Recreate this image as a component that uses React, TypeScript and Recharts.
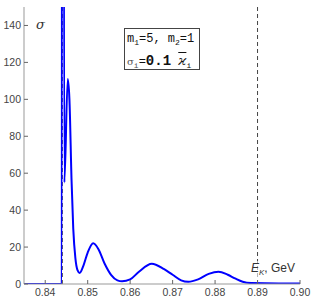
import React from 'react';
import { LineChart, Line, XAxis, YAxis, ReferenceLine } from 'recharts';

const energy = [
  0.835, 0.8439, 0.84402, 0.8445, 0.8453, 0.8457, 0.8462, 0.8466, 0.8471, 0.8476, 0.8481,
  0.849, 0.85, 0.8513, 0.8525, 0.854, 0.8555, 0.857, 0.8581, 0.86, 0.862, 0.8651, 0.868,
  0.87, 0.872, 0.8737, 0.876, 0.8785, 0.8808, 0.883, 0.8847, 0.8865, 0.8885, 0.895, 0.9,
];
const sigma = [
  0, 0, 900, 55, 111, 100, 56, 30, 14, 7.5, 6,
  10, 17, 22, 19, 11, 5, 2, 1.5, 2.5, 6.5, 11, 8,
  5, 2, 1.2, 2.5, 5.5, 6.7, 5, 3, 1.2, 0.5, 0.3, 0.3,
];

const xTicks = [0.84, 0.85, 0.86, 0.87, 0.88, 0.89, 0.9];
const xMinor = [
  0.836, 0.838, 0.842, 0.844, 0.846, 0.848, 0.852, 0.854, 0.856, 0.858, 0.862, 0.864, 0.866, 0.868,
  0.872, 0.874, 0.876, 0.878, 0.882, 0.884, 0.886, 0.888, 0.892, 0.894, 0.896, 0.898,
];
const yTicks = [0, 20, 40, 60, 80, 100, 120, 140];
const yMinor = [5, 10, 15, 25, 30, 35, 45, 50, 55, 65, 70, 75, 85, 90, 95, 105, 110, 115, 125, 130, 135, 145];
const threshold = 0.844;
const kaonEnergy = 0.89;

const data = energy.map((e, i) => ({ e, s: sigma[i] }));

const frame = '#999';
const tickColor = '#666';
const tickText = { fontSize: 10.5, fill: '#444', fontFamily: 'Liberation Sans, Arial, sans-serif' };
const xDomain = [0.835, 0.9];
const yDomain = [0, 150];

export default function App() {
  return (
    <div style={{ position: 'absolute', left: 0, top: 0, width: 311, height: 300, background: '#fff' }}>
      <LineChart width={311} height={300} data={data} margin={{ top: 7, right: 11, left: 0, bottom: 0 }}>
        <XAxis
          dataKey="e"
          type="number"
          domain={xDomain}
          ticks={xTicks}
          allowDataOverflow
          tickFormatter={(v: number) => v.toFixed(2)}
          tickSize={-4}
          tickMargin={9}
          height={16}
          stroke={frame}
          tickLine={{ stroke: tickColor }}
          tick={tickText}
        />
        <XAxis xAxisId="bminor" dataKey="e" type="number" domain={xDomain} ticks={xMinor} mirror tick={false}
          tickSize={2} height={0} axisLine={false} tickLine={{ stroke: tickColor }} />
        <XAxis xAxisId="top" dataKey="e" type="number" orientation="top" domain={xDomain} ticks={xTicks} mirror
          tick={false} tickSize={4} height={0} stroke={frame} tickLine={{ stroke: tickColor }} />
        <XAxis xAxisId="tminor" dataKey="e" type="number" orientation="top" domain={xDomain} ticks={xMinor} mirror
          tick={false} tickSize={2} height={0} axisLine={false} tickLine={{ stroke: tickColor }} />
        <YAxis
          type="number"
          domain={yDomain}
          ticks={yTicks}
          allowDataOverflow
          tickSize={-4}
          tickMargin={7}
          width={24}
          stroke={frame}
          tickLine={{ stroke: tickColor }}
          tick={tickText}
        />
        <YAxis yAxisId="lminor" type="number" domain={yDomain} ticks={yMinor} mirror tick={false} tickSize={2}
          width={0} axisLine={false} tickLine={{ stroke: tickColor }} />
        <YAxis yAxisId="right" orientation="right" type="number" domain={yDomain} ticks={yTicks} mirror tick={false}
          tickSize={4} width={0} stroke={frame} tickLine={{ stroke: tickColor }} />
        <YAxis yAxisId="rminor" orientation="right" type="number" domain={yDomain} ticks={yMinor} mirror tick={false}
          tickSize={2} width={0} axisLine={false} tickLine={{ stroke: tickColor }} />
        <ReferenceLine x={threshold} stroke="#222" strokeDasharray="4 3" strokeWidth={1} />
        <ReferenceLine x={kaonEnergy} stroke="#444" strokeDasharray="4 3" strokeWidth={1} />
        <Line
          dataKey="s"
          type="monotone"
          stroke="#0000ff"
          strokeWidth={2}
          dot={false}
          isAnimationActive={false}
        />
      </LineChart>

      <div style={{ position: 'absolute', left: 36, top: 17, fontFamily: 'DejaVu Serif, serif', fontStyle: 'italic', fontSize: 13, color: '#333' }}>
        σ
      </div>

      <div
        style={{
          position: 'absolute',
          left: 124,
          top: 28,
          width: 72,
          height: 39,
          border: '1.5px solid #444',
          background: '#fff',
          fontFamily: 'Liberation Mono, DejaVu Sans Mono, monospace',
          fontSize: 12,
          color: '#111',
          padding: '1px 0 0 2px',
          lineHeight: '18px',
          whiteSpace: 'nowrap',
        }}
      >
        <div>
          m<sub style={{ fontSize: 8 }}>1</sub>=5,{'\u00a0'}m<sub style={{ fontSize: 8 }}>2</sub>=1
        </div>
        <div>
          <span style={{ fontFamily: 'DejaVu Serif, serif', fontSize: 10, color: '#555' }}>σ</span>
          <sub style={{ fontSize: 8, color: '#555' }}>i</sub>=<span style={{ fontSize: 14, fontWeight: 'bold' }}>0.1</span>{' '}
          <span style={{ fontFamily: 'DejaVu Serif, serif', fontStyle: 'italic', fontSize: 13, textDecoration: 'overline' }}>ϰ</span>
          <sub style={{ fontSize: 8 }}>i</sub>
        </div>
      </div>

      <div style={{ position: 'absolute', left: 251, top: 261, fontFamily: 'Liberation Sans, Arial, sans-serif', fontSize: 12, color: '#333', background: 'rgba(255,255,255,0.6)' }}>
        <i>E</i>
        <sub style={{ fontSize: 8 }}><i>K</i></sub>, GeV
      </div>
    </div>
  );
}
